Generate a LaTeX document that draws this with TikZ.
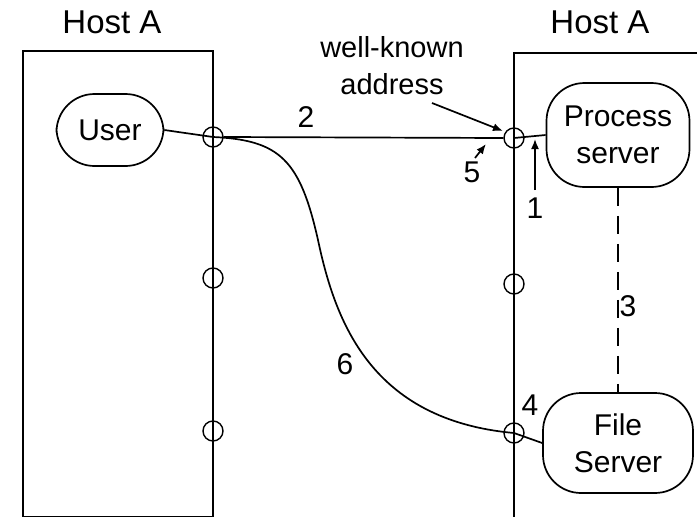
\documentclass[tikz,border=0pt]{standalone}
\usepackage{fontspec}
\setmainfont{Liberation Sans}
\usepackage{tikz}
\usetikzlibrary{arrows.meta,positioning,calc}

\begin{document}
\begin{tikzpicture}[x=1pt,y=-1pt,line width=1.7pt,
  lbl/.style={font=\fontsize{30}{37}\selectfont,align=center,inner sep=0pt},
  port/.style={draw,circle,inner sep=0pt,minimum size=20pt,line width=1.4pt},
  blob/.style={lbl,draw,rectangle,rounded corners=38pt},
  >={Latex[length=10pt,width=8pt]}]

  \useasboundingbox (0,0) rectangle (697,517);

  % the two hosts
  \draw (23,51) rectangle (213,517);
  \draw (705,53) -- (514,53) -- (514,525);
  \node[lbl,font=\fontsize{33}{37}\selectfont] (hostl) at (112,22) {Host A};
  \node[lbl,font=\fontsize{33}{37}\selectfont] (hostr) at (600,22) {Host A};

  % ports on the host edges
  \foreach \n/\y in {1/137,2/278,3/431}
    \node[port] (l\n) at (213,\y) {};
  \foreach \n/\y in {1/138,2/284,3/433}
    \node[port] (r\n) at (514,\y) {};

  % processes
  \node[blob,minimum width=107pt,minimum height=72pt] (user) at (110,130) {User};
  \node[blob,minimum width=143pt,minimum height=104pt] (proc) at (618,135) {Process\\server};
  \node[blob,minimum width=150pt,minimum height=100pt] (file) at (618,443) {File\\Server};

  % connections
  \draw (user.east) -- (l1.center);
  \draw (l1.east) -- (r1.west);
  \draw (r1.center) -- (proc.west);
  \draw (r3.center) -- (file.west);
  \draw (l1.center) .. controls (280,140) and (300,160) .. (318,240)
                    .. controls (335,320) and (370,420) .. (r3.center);
  \draw[dash pattern=on 18pt off 10pt] (proc.south) -- (file.north);

  % labels
  \node[lbl,font=\fontsize{29}{37}\selectfont] (wk) at (392,66) {well-known\\address};
  \node[lbl] (n1) at (535,208) {1};
  \node[lbl] (n2) at (306,117) {2};
  \node[lbl] (n3) at (628,306) {3};
  \node[lbl] (n4) at (530,405) {4};
  \node[lbl] (n5) at (472,172) {5};
  \node[lbl] (n6) at (345,364) {6};

  % arrows
  \coordinate (wks) at (432,103);
  \coordinate (wkt) at (503,131);
  \draw[->] (wks) -- (wkt);
  \coordinate (s1) at (535,190);
  \coordinate (t1) at (535,139);
  \draw[->] (s1) -- (t1);
  \coordinate (s5) at (475,158);
  \coordinate (t5) at (486,144);
  \draw[->] (s5) -- (t5);

\end{tikzpicture}
\end{document}
